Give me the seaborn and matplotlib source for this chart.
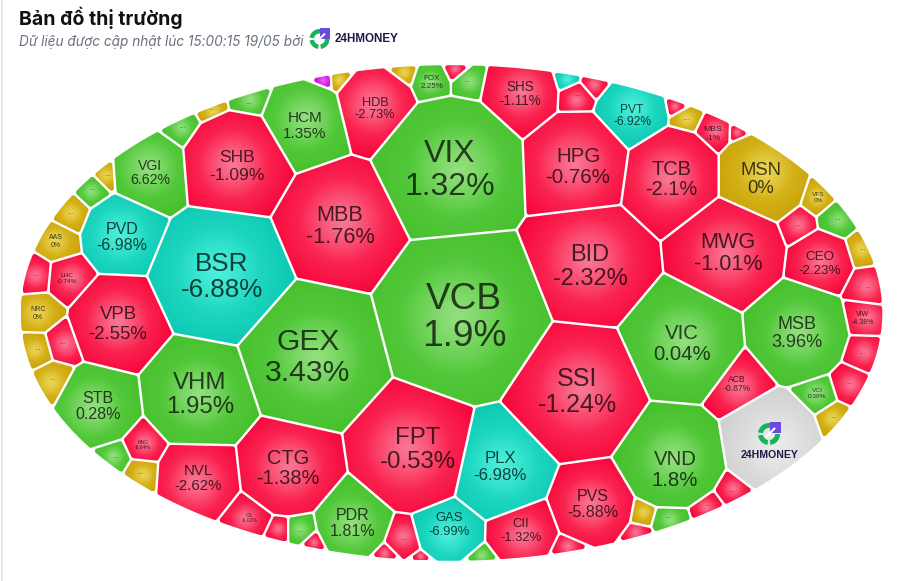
import numpy as np
import matplotlib
matplotlib.use("Agg")
import matplotlib.pyplot as plt
from matplotlib.patches import Polygon, Wedge, Rectangle
import seaborn as sns

# Market data: ticker and daily change in percent ("..." marks cells too small for a name)
tickers = ["VCB","VIX","BID","SSI","GEX","BSR","MBB","FPT","SHB","HPG","TCB","MWG","MSN","VIC","VND","MSB",
           "VHM","PLX","CTG","VPB","STB","NVL","PVD","VGI","HCM","HDB","SHS","PVT","CEO","PVS","CII","GAS","PDR","ACB",
           "AAS","...","...","...","...","...","...","","","","FOX","","...","","...","","","...","MBS","",
           "VFS","...","...","...","...","VIW","...","...","VCI","...","...","...","...","","","","","","...","","...","","OIL","","...","...","HNG","...","...","...","NRC","LHC","...","24HMONEY"]
changes = [1.9,1.32,-2.32,-1.24,3.43,-6.88,-1.76,-0.53,-1.09,-0.76,-2.1,-1.01,0,0.04,1.8,3.96,
           1.95,-6.98,-1.38,-2.55,0.28,-2.62,-6.98,6.62,1.35,-2.73,-1.11,-6.92,-2.23,-5.88,-1.32,-6.99,1.81,-0.87,
           0,0,0.5,0,0.5,0,0.5,7,0,0,2.25,-1,0.5,-7,-1,-1,-1,0,-1,-1,
           0,-1,0.5,0,-1,-4.38,-1,-1,0.38,0,-1,-1,0.5,0,-1,-1,0.5,-1,-1,-1,0.5,-1,-6.02,-1,0,0.5,-6.64,0,0,-1,0,-0.74,-1,None]

# Layout of the cells: site position and weight radius of a power diagram
site_x = [464,450,590,577,313,222,340,416,237,578,671,728,761,682,672,797,
          200,497,288,118,98,198,122,150,305,375,520,632,820,593,521,448,353,737,
          56,70,92,107,182,212,248,323,339,402,432,457,467,569,577,592,678,686,713,742,
          818,797,837,862,867,863,862,849,817,833,731,708,670,645,640,571,478,420,404,388,299,310,250,280,140,115,143,52,37,62,38,67,35,770]
site_y = [315,170,265,390,355,275,225,448,165,165,178,252,178,342,456,332,
          393,466,467,323,405,477,234,172,125,108,93,115,263,503,530,528,522,383,
          241,213,190,175,127,110,103,79,78,72,82,70,82,78,96,83,106,120,133,134,
          197,225,219,250,287,318,353,383,393,418,491,508,520,513,537,554,563,562,540,556,532,544,518,532,473,458,445,380,350,343,313,278,275,440]
site_r = [85,72,62,68,72,68,62,62,53,52,50,55,45,60,52,50,
          55,52,47,45,38,38,37,36,42,38,35,34,30,38,30,32,34,32,
          15,13,10,8,10,6,12,4,4,5,14,6,10,5,10,6,5,10,14,8,
          12,13,13,10,14,14,14,14,15,9,10,12,14,4,3,2,2,3,14,4,10,5,16,7,10,10,13,13,12,13,15,16,13,48]

# Label anchors and text sizes in pixels
label_x = [464,450,590,577,308,222,340,418,237,578,671,728,761,682,675,797,
           200,500,288,118,98,198,122,150,305,375,520,632,820,593,521,449,353,737,
           56,70,92,107,182,212,248,323,339,402,432,457,467,569,577,592,678,686,713,742,
           818,797,837,862,867,863,862,849,817,833,731,708,668,643,638,570,478,420,404,388,299,310,250,280,140,115,143,52,37,62,38,67,35,770]
label_y = [315,168,265,390,355,275,225,448,165,165,178,252,178,342,468,332,
           393,466,467,323,405,477,236,172,125,108,93,115,263,503,530,524,522,383,
           241,213,190,175,127,110,103,79,78,72,82,70,82,78,96,83,106,120,133,134,
           197,225,219,250,287,318,353,383,393,418,491,505,517,513,532,546,555,558,540,556,532,544,518,532,473,458,445,380,350,343,313,278,275,440]
label_px = {"VCB":37,"VIX":32,"BID":23.6,"SSI":25,"GEX":30,"BSR":26,"MBB":21.6,"FPT":24,"SHB":17.5,"HPG":20.5,"TCB":20,
            "MWG":21.6,"MSN":18.5,"VIC":20.4,"VND":20.4,"MSB":18,"VHM":24,"PLX":16.8,"CTG":20,"VPB":18.7,"STB":16,"NVL":15,
            "PVD":16,"VGI":14,"HCM":15.4,"HDB":12.7,"SHS":13.5,"PVT":12,"CEO":13.4,"PVS":16,"CII":13,"GAS":13,"PDR":16,
            "ACB":8.7,"AAS":7,"FOX":8,"MBS":8.5,"VFS":6.5,"VIW":7,"VCI":6.5,"OIL":5,"HNG":5,"NRC":7,"LHC":6.5}

W, H = 898, 581
ELL_CX, ELL_CY, ELL_A, ELL_B = 451.5, 313.0, 432.0, 249.0
GAP = 1.2

sns.set_theme(style="white")
plt.rcParams["font.family"] = ["Liberation Sans", "DejaVu Sans"]

# Radial ramps for each colour class: rim colour to centre colour
ramps = {
    "up": sns.blend_palette(["#46c02c", "#52c83a", "#93e07e"], as_cmap=True),
    "down": sns.blend_palette(["#f6053a", "#fa2450", "#fb7795"], as_cmap=True),
    "floor": sns.blend_palette(["#0cc8b2", "#1dd6c0", "#4df0dc"], as_cmap=True),
    "flat": sns.blend_palette(["#c8a20c", "#d4b016", "#ecd556"], as_cmap=True),
    "ceil": sns.blend_palette(["#c81ad8", "#d820e6", "#ee60f4"], as_cmap=True),
    "brand": sns.blend_palette(["#cfcfd0", "#dcdcdd", "#ececec"], as_cmap=True),
}


def colour_class(v):
    if v is None:
        return "brand"
    if v >= 6.9:
        return "ceil"
    if v <= -6.85:
        return "floor"
    if v == 0:
        return "flat"
    return "up" if v > 0 else "down"


def clip_halfplane(poly, n, c):
    out = []
    for k in range(len(poly)):
        p, q = poly[k], poly[(k + 1) % len(poly)]
        fp, fq = p @ n - c, q @ n - c
        if fp <= 0:
            out.append(p)
        if fp * fq < 0:
            out.append(p + (q - p) * fp / (fp - fq))
    return np.array(out) if out else np.zeros((0, 2))


def convex_hull(pts):
    pts = sorted(map(tuple, pts))
    def half(seq):
        h = []
        for p in seq:
            while len(h) > 1 and (h[-1][0]-h[-2][0])*(p[1]-h[-2][1]) - (h[-1][1]-h[-2][1])*(p[0]-h[-2][0]) <= 0:
                h.pop()
            h.append(p)
        return h[:-1]
    return np.array(half(pts) + half(pts[::-1]))


def power_cell(i, inset):
    t = np.linspace(0, 2 * np.pi, 240, endpoint=False)
    poly = np.c_[ELL_CX + (ELL_A - inset) * np.cos(t), ELL_CY + (ELL_B - inset) * np.sin(t)]
    si = np.array([site_x[i], site_y[i]], float)
    wi = site_r[i] ** 2
    for j in range(len(site_x)):
        if j == i or len(poly) == 0:
            continue
        sj = np.array([site_x[j], site_y[j]], float)
        wj = site_r[j] ** 2
        d = sj - si
        L = np.hypot(*d)
        c = (sj @ sj - wj - si @ si + wi) / (2 * L)
        poly = clip_halfplane(poly, d / L, c - inset)
    return poly


def rounded_cell(i):
    # Shrink the cell, then grow it back with a disc to round every corner
    for rad in (2.4, 1.2, 0.4):
        core = power_cell(i, GAP + rad)
        if len(core) >= 3:
            a = np.linspace(0, 2 * np.pi, 16, endpoint=False)
            disc = rad * np.c_[np.cos(a), np.sin(a)]
            return convex_hull((core[:, None, :] + disc[None, :, :]).reshape(-1, 2))
    return power_cell(i, 0.3)


def draw_logo(ax, cx, cy, s, backdrop):
    # Green ring with an open upper-right quarter and a violet arrow tile
    ax.add_patch(Wedge((cx, cy), s, 0, 278, width=s * 0.45, fc="#17b35a", ec="none", zorder=6))
    ax.add_patch(Wedge((cx, cy), s * 1.05, 172, 188, width=s * 0.55, fc=backdrop, ec="none", zorder=7))
    ax.add_patch(Wedge((cx, cy), s * 1.05, 82, 98, width=s * 0.55, fc=backdrop, ec="none", zorder=7))
    ax.add_patch(Rectangle((cx + 0.05 * s, cy - 1.08 * s), 1.03 * s, 1.03 * s, fc="#6a4be0", ec="none", zorder=7))
    ax.plot([cx - 0.25 * s, cx + 0.55 * s], [cy + 0.25 * s, cy - 0.55 * s], color="white", lw=0.14 * s, zorder=8, solid_capstyle="butt")


fig = plt.figure(figsize=(W / 100, H / 100), dpi=100, facecolor="white")
ax = fig.add_axes([0, 0, 1, 1])
ax.set_xlim(0, W)
ax.set_ylim(H, 0)
ax.axis("off")

# Page border on the left
ax.plot([1.8, 1.8], [0, H], color="#dfe3e8", lw=1.2, zorder=1)

for i, (name, value) in enumerate(zip(tickers, changes)):
    poly = rounded_cell(i)
    if len(poly) < 3:
        continue
    x0, y0 = poly.min(axis=0)
    x1, y1 = poly.max(axis=0)
    cen = poly.mean(axis=0)
    xx, yy = np.meshgrid(np.linspace(x0, x1, 90), np.linspace(y0, y1, 90))
    dist = np.hypot(xx - cen[0], yy - cen[1])
    reach = np.hypot(*(poly - cen).T).max()
    img = ax.imshow(1 - np.clip(dist / reach, 0, 1) ** 1.2, cmap=ramps[colour_class(value)], vmin=0, vmax=1,
                    extent=(x0, x1, y1, y0), aspect="auto", zorder=2, interpolation="bilinear")
    patch = Polygon(poly, closed=True, fc="none", ec="none", transform=ax.transData)
    ax.add_patch(patch)
    img.set_clip_path(patch)

    x, y = label_x[i], label_y[i]
    if value is None:
        continue
    if name == "...":
        ax.text(x, y - 1, "...", ha="center", va="center", fontsize=5.5, color="#000000", alpha=0.55, zorder=5)
    elif name:
        px = label_px[name]
        for text, dy in ((name, -0.5), (f"{value:g}%", 0.5)):
            ax.text(x, y + dy * px * 1.02 + 0.08 * px, text, ha="center", va="center", fontsize=px * 0.72,
                    color="black", alpha=0.72, zorder=5)

ax.set_xlim(0, W)
ax.set_ylim(H, 0)

ax.text(19, 18, "Bản đồ thị trường", fontsize=14, fontweight="bold", color="#111111", va="center", ha="left", family=["Inter", "DejaVu Sans"])
ax.text(19, 42, "Dữ liệu được cập nhật lúc 15:00:15 19/05 bởi", fontsize=9.8, style="italic", color="#6b7280", va="center", ha="left", family=["Inter", "DejaVu Sans"])
draw_logo(ax, 319.5, 39, 10, "white")
ax.text(335, 39, "24HMONEY", fontsize=8.4, fontweight="bold", color="#1d1b4b", va="center", ha="left")

# Brand mark inside its own cell
draw_logo(ax, 769, 434, 11, "#e2e2e3")
ax.text(770, 455, "24HMONEY", fontsize=7.6, fontweight="bold", color="#1d1b4b", va="center", ha="center", zorder=6)

fig.savefig("out.png", dpi=100, facecolor="white")
